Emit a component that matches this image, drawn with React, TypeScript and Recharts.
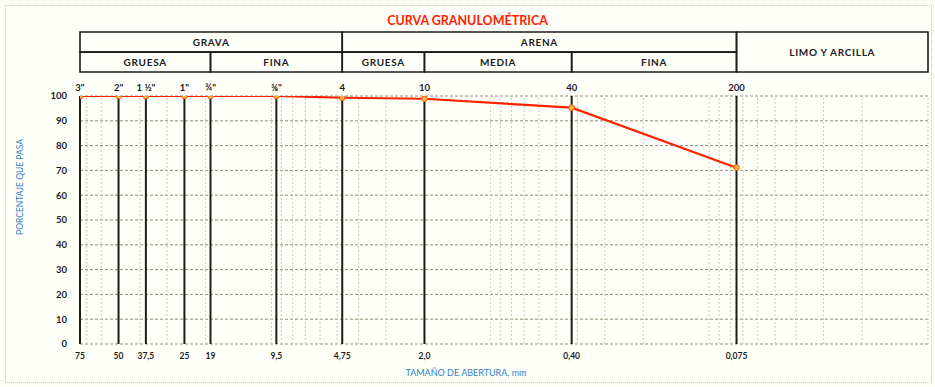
import {
  LineChart,
  Line,
  XAxis,
  YAxis,
  CartesianGrid,
  ReferenceLine,
  ReferenceArea,
} from 'recharts';

// sieve openings (mm) and % passing
const sizes = [75, 50, 37.5, 25, 19, 9.5, 4.75, 2.0, 0.425, 0.075];
const passing = [100, 100, 100, 100, 100, 100, 99.3, 98.9, 95.3, 71.1];
const mmLabels = ['75', '50', '37,5', '25', '19', '9,5', '4,75', '2,0', '0,40', '0,075'];
const sieveLabels = ['3"', '2"', '1 ½"', '1"', '¾"', '⅜"', '4', '10', '40', '200'];
const yTicks = [0, 10, 20, 30, 40, 50, 60, 70, 80, 90, 100];

// log paper minor lines
const minorGrid = [
  70, 60, 50, 40, 30, 20, 10, 9, 8, 7, 6, 5, 4, 3, 2, 1,
  0.9, 0.8, 0.7, 0.6, 0.5, 0.4, 0.3, 0.2, 0.1,
  0.09, 0.08, 0.07, 0.06, 0.05, 0.04, 0.03, 0.02, 0.01,
];

// classification header (USCS)
const headerTop = [
  { name: 'GRAVA', from: 75, to: 4.75 },
  { name: 'ARENA', from: 4.75, to: 0.075 },
];
const headerSub = [
  { name: 'GRUESA', from: 75, to: 19 },
  { name: 'FINA', from: 19, to: 4.75 },
  { name: 'GRUESA', from: 4.75, to: 2.0 },
  { name: 'MEDIA', from: 2.0, to: 0.425 },
  { name: 'FINA', from: 0.425, to: 0.075 },
];
const headerFines = { name: 'LIMO Y ARCILLA', from: 0.075, to: 0.01 };

// header band edges, in y-axis units (above the 100 % line)
const BAND_LOW = 109.7;
const BAND_MID = 117.7;
const BAND_HIGH = 125.8;

const data = sizes.map((s, i) => ({ size: s, pasa: passing[i] }));

const RED = '#ff2200';
const BLUE = '#2f80c4';
const INK = '#1c1c1c';

const headerLabel = (value: string) => ({
  value,
  position: 'center' as const,
  fill: INK,
  fontSize: 10,
  fontWeight: 700,
  letterSpacing: 0.7,
});

export default function App() {
  return (
    <div
      style={{
        position: 'absolute',
        left: 0,
        top: 0,
        width: 935,
        height: 387,
        background: '#fffffa',
        fontFamily: 'Lato, "Open Sans", sans-serif',
      }}
    >
      <div
        style={{
          position: 'absolute',
          left: 5,
          top: 5,
          width: 925,
          height: 376,
          border: '1px dotted #c9c4b6',
        }}
      />
      <div
        style={{
          position: 'absolute',
          left: 0,
          width: 935,
          top: 13,
          textAlign: 'center',
          color: RED,
          fontWeight: 700,
          fontSize: 12.5,
        }}
      >
        CURVA GRANULOMÉTRICA
      </div>
      <div style={{ position: 'absolute', left: 0, top: 0 }}>
        <LineChart
          width={935}
          height={387}
          data={data}
          margin={{ top: 76, right: 7, bottom: 3, left: 0 }}
        >
          <CartesianGrid
            vertical={false}
            stroke="#948a78"
            strokeDasharray="3 2"
          />
          <XAxis
            xAxisId="mm"
            dataKey="size"
            type="number"
            scale="log"
            domain={[0.01, 75]}
            allowDataOverflow
            reversed
            ticks={sizes}
            interval={0}
            tickFormatter={(v) => mmLabels[sizes.indexOf(v)] ?? ''}
            axisLine={false}
            tickLine={false}
            tickSize={0}
            tickMargin={9}
            height={40}
            tick={{ fontSize: 8.5, fontWeight: 700, fill: INK }}
            label={{
              value: 'TAMAÑO DE ABERTURA, mm',
              position: 'insideBottom',
              offset: 8,
              dx: -38,
              fill: BLUE,
              fontSize: 9,
            }}
          />
          <XAxis
            xAxisId="sieve"
            orientation="top"
            dataKey="size"
            type="number"
            scale="log"
            domain={[0.01, 75]}
            allowDataOverflow
            reversed
            ticks={sizes}
            interval={0}
            tickFormatter={(v) => sieveLabels[sizes.indexOf(v)] ?? ''}
            axisLine={false}
            tickLine={false}
            tickSize={0}
            tickMargin={5}
            height={20}
            tick={{ fontSize: 9.5, fontWeight: 700, fill: INK }}
          />
          <YAxis
            type="number"
            domain={[0, 100]}
            allowDataOverflow
            ticks={yTicks}
            interval={0}
            axisLine={false}
            tickLine={false}
            tickSize={0}
            tickMargin={13}
            width={80}
            tick={{ fontSize: 9.5, fontWeight: 700, fill: INK }}
            label={{
              value: 'PORCENTAJE QUE PASA',
              angle: -90,
              position: 'center',
              dx: -20,
              dy: -33,
              fill: BLUE,
              fontSize: 8.5,
            }}
          />

          {minorGrid.map((m) => (
            <ReferenceLine
              key={`m${m}`}
              xAxisId="mm"
              x={m}
              stroke="#d2cab8"
              strokeDasharray="2 2"
              strokeWidth={1}
              ifOverflow="visible"
            />
          ))}
          {sizes.map((s) => (
            <ReferenceLine
              key={`s${s}`}
              xAxisId="mm"
              x={s}
              stroke={INK}
              strokeWidth={2}
            />
          ))}

          {headerTop.map((h) => (
            <ReferenceArea
              key={`t${h.name}`}
              xAxisId="mm"
              x1={h.from}
              x2={h.to}
              y1={BAND_MID}
              y2={BAND_HIGH}
              ifOverflow="visible"
              fill="none"
              fillOpacity={0}
              stroke={INK}
              strokeWidth={1.6}
              label={headerLabel(h.name)}
            />
          ))}
          {headerSub.map((h, i) => (
            <ReferenceArea
              key={`b${i}`}
              xAxisId="mm"
              x1={h.from}
              x2={h.to}
              y1={BAND_LOW}
              y2={BAND_MID}
              ifOverflow="visible"
              fill="none"
              fillOpacity={0}
              stroke={INK}
              strokeWidth={1.6}
              label={headerLabel(h.name)}
            />
          ))}
          <ReferenceArea
            xAxisId="mm"
            x1={headerFines.from}
            x2={headerFines.to}
            y1={BAND_LOW}
            y2={BAND_HIGH}
            ifOverflow="visible"
            fill="none"
            fillOpacity={0}
            stroke={INK}
            strokeWidth={1.6}
            label={headerLabel(headerFines.name)}
          />

          <Line
            xAxisId="mm"
            dataKey="pasa"
            type="linear"
            stroke={RED}
            strokeWidth={2.2}
            dot={{ r: 2.8, fill: '#ffb347', stroke: '#ff5a00', strokeWidth: 1 }}
            activeDot={false}
            isAnimationActive={false}
          />
        </LineChart>
      </div>
    </div>
  );
}
